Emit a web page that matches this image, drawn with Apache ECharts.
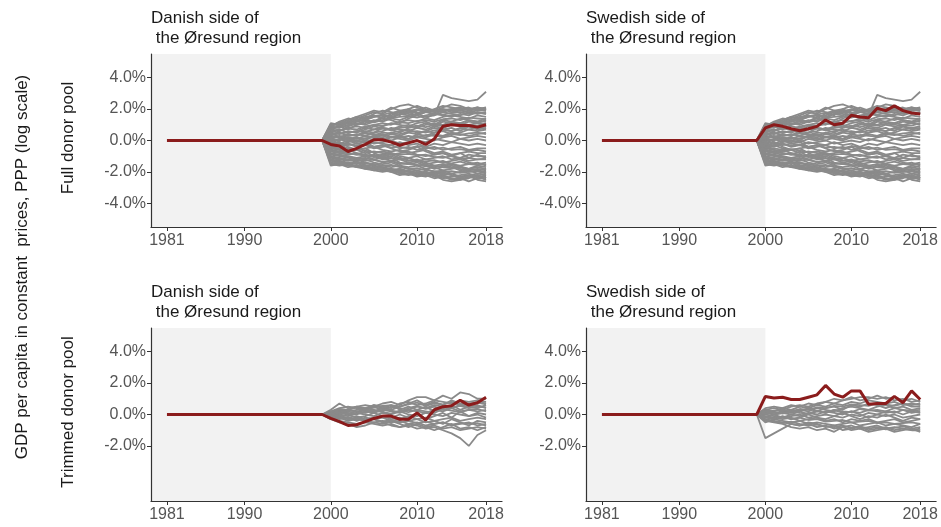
<!DOCTYPE html>
<html>
<head>
<meta charset="utf-8">
<script src="https://cdn.jsdelivr.net/npm/echarts@6/dist/echarts.min.js"></script>
<style>
  html, body { margin: 0; padding: 0; background: #fff; }
  #chart { width: 941px; height: 527px; }
</style>
</head>
<body>
<div id="chart"></div>
<script>
// years of the whole panel and of the placebo part
var years = [1981,1982,1983,1984,1985,1986,1987,1988,1989,1990,1991,1992,1993,1994,1995,1996,1997,1998,1999,
             2000,2001,2002,2003,2004,2005,2006,2007,2008,2009,2010,2011,2012,2013,2014,2015,2016,2017,2018];
var postYears = [1999,2000,2001,2002,2003,2004,2005,2006,2007,2008,2009,2010,2011,2012,2013,2014,2015,2016,2017,2018];
var xTickLabels = [1981, 1990, 2000, 2010, 2018];

// treated units (gap in %), 1981-2018
var danishFull = [0,0,0,0,0,0,0,0,0,0,0,0,0,0,0,0,0,0,0,
  -0.25,-0.35,-0.7,-0.5,-0.25,0.05,0.05,-0.1,-0.3,-0.15,0.0,-0.25,0.1,0.9,1.0,0.95,0.95,0.85,1.0];
var swedishFull = [0,0,0,0,0,0,0,0,0,0,0,0,0,0,0,0,0,0,0,
  0.8,1.0,0.9,0.75,0.62,0.75,0.9,1.3,1.0,1.1,1.6,1.5,1.45,2.05,1.9,2.2,1.9,1.75,1.68];
var danishTrim = [0,0,0,0,0,0,0,0,0,0,0,0,0,0,0,0,0,0,0,
  -0.25,-0.45,-0.7,-0.65,-0.45,-0.25,-0.1,-0.1,-0.3,-0.3,0.1,-0.35,0.3,0.5,0.55,0.9,0.6,0.75,1.1];
var swedishTrim = [0,0,0,0,0,0,0,0,0,0,0,0,0,0,0,0,0,0,0,
  1.15,1.05,1.1,0.95,0.95,1.1,1.25,1.85,1.3,1.1,1.5,1.5,0.65,0.7,0.7,1.15,0.75,1.5,0.95];

// placebo gaps (%), 1999-2018
var placeboFull = [
  [0,1.1,1.0,1.2,1.4,1.6,1.8,1.7,2.0,2.2,2.3,2.1,1.9,1.6,2.9,2.7,2.6,2.5,2.6,3.1],
  [0,1.0,1.1,1.3,1.5,1.4,1.7,1.9,1.8,1.6,2.0,2.2,2.0,1.9,2.1,2.3,2.2,2.0,2.1,2.0],
  [0,0.9,0.8,1.0,1.2,1.3,1.2,1.5,1.6,1.8,1.7,1.6,1.8,1.9,2.0,1.8,1.9,2.0,2.0,1.9],
  [0,0.8,0.9,0.7,1.0,1.1,1.3,1.2,1.4,1.3,1.5,1.7,1.5,1.6,1.8,1.7,1.6,1.8,1.7,1.8],
  [0,0.7,0.6,0.8,0.9,0.8,1.0,1.1,1.0,1.2,1.3,1.2,1.4,1.3,1.5,1.6,1.5,1.4,1.6,1.5],
  [0,0.6,0.7,0.5,0.6,0.8,0.7,0.9,1.1,1.0,0.9,1.1,1.2,1.0,1.3,1.2,1.4,1.3,1.2,1.4],
  [0,0.5,0.4,0.6,0.5,0.7,0.9,0.8,0.7,0.9,1.0,0.8,1.0,1.1,1.0,1.2,1.1,1.3,1.2,1.2],
  [0,0.4,0.5,0.3,0.4,0.3,0.5,0.6,0.8,0.7,0.6,0.8,0.7,0.9,0.8,1.0,0.9,1.0,1.1,1.0],
  [0,0.3,0.2,0.4,0.3,0.5,0.4,0.3,0.5,0.6,0.7,0.5,0.6,0.8,0.7,0.6,0.8,0.9,0.8,0.9],
  [0,0.2,0.3,0.1,0.2,0.1,0.3,0.4,0.2,0.3,0.5,0.4,0.3,0.5,0.6,0.4,0.5,0.7,0.6,0.7],
  [0,0.1,0.0,0.2,0.1,0.3,0.2,0.1,0.0,0.2,0.1,0.3,0.2,0.4,0.3,0.5,0.4,0.3,0.4,0.5],
  [0,0.0,0.1,-0.1,0.0,-0.1,0.1,0.0,0.2,0.1,0.0,0.2,0.1,0.0,0.2,0.3,0.1,0.2,0.3,0.2],
  [0,-0.1,-0.2,0.0,-0.1,0.0,-0.2,-0.1,0.0,-0.2,-0.1,0.0,-0.1,0.1,0.0,-0.1,0.1,0.0,0.1,0.0],
  [0,-0.2,-0.1,-0.3,-0.2,-0.3,-0.1,-0.2,-0.3,-0.1,-0.3,-0.2,-0.4,-0.2,-0.3,-0.1,-0.2,-0.3,-0.2,-0.3],
  [0,-0.3,-0.4,-0.2,-0.4,-0.3,-0.5,-0.4,-0.3,-0.5,-0.4,-0.6,-0.5,-0.4,-0.6,-0.5,-0.4,-0.6,-0.5,-0.5],
  [0,-0.4,-0.3,-0.5,-0.6,-0.5,-0.4,-0.6,-0.7,-0.6,-0.8,-0.7,-0.6,-0.8,-0.7,-0.9,-0.8,-0.7,-0.8,-0.8],
  [0,-0.5,-0.6,-0.7,-0.6,-0.8,-0.7,-0.8,-0.9,-0.8,-0.7,-0.9,-1.0,-0.9,-0.8,-1.0,-1.1,-0.9,-1.0,-1.0],
  [0,-0.6,-0.7,-0.6,-0.8,-0.9,-1.0,-0.9,-0.8,-1.0,-1.1,-1.0,-1.2,-1.1,-1.0,-1.2,-1.1,-1.3,-1.2,-1.2],
  [0,-0.7,-0.8,-0.9,-0.8,-1.0,-0.9,-1.1,-1.0,-1.2,-1.1,-1.3,-1.2,-1.3,-1.4,-1.3,-1.2,-1.4,-1.5,-1.4],
  [0,-0.8,-0.9,-1.0,-1.1,-1.0,-1.2,-1.1,-1.3,-1.2,-1.4,-1.3,-1.5,-1.4,-1.3,-1.5,-1.6,-1.5,-1.4,-1.6],
  [0,-0.9,-1.0,-1.1,-1.2,-1.3,-1.2,-1.4,-1.3,-1.5,-1.4,-1.6,-1.5,-1.7,-1.6,-1.5,-1.7,-1.8,-1.6,-1.7],
  [0,-1.0,-1.1,-1.2,-1.3,-1.2,-1.4,-1.5,-1.4,-1.6,-1.7,-1.6,-1.8,-1.7,-1.9,-1.8,-1.7,-1.9,-1.8,-1.9],
  [0,-1.1,-1.2,-1.3,-1.2,-1.4,-1.5,-1.6,-1.7,-1.6,-1.8,-1.9,-1.8,-2.0,-1.9,-2.1,-2.0,-1.9,-2.1,-2.0],
  [0,-1.2,-1.3,-1.4,-1.5,-1.4,-1.6,-1.7,-1.8,-1.9,-2.0,-1.9,-2.1,-2.0,-2.2,-2.1,-2.3,-2.2,-2.1,-2.2],
  [0,-1.3,-1.4,-1.5,-1.6,-1.7,-1.8,-1.7,-1.9,-2.0,-2.1,-2.2,-2.1,-2.3,-2.2,-2.4,-2.5,-2.3,-2.2,-2.4],
  [0,-1.4,-1.5,-1.6,-1.7,-1.8,-1.9,-2.0,-1.9,-2.1,-2.2,-2.1,-2.0,-2.2,-2.4,-2.3,-2.2,-2.1,-2.3,-2.5],
  [0,-1.5,-1.6,-1.5,-1.7,-1.6,-1.8,-1.9,-2.0,-1.8,-2.0,-2.2,-2.3,-2.1,-2.0,-2.2,-2.4,-2.6,-2.4,-2.3],
  [0,-1.6,-1.5,-1.7,-1.6,-1.8,-1.7,-1.9,-1.8,-2.0,-1.9,-2.1,-2.0,-2.2,-2.5,-2.6,-2.5,-2.4,-2.2,-2.4],
  [0,0.9,1.2,1.4,1.3,1.5,1.6,1.4,1.7,1.9,1.8,2.0,1.8,1.7,1.9,2.0,2.1,1.9,2.0,2.1],
  [0,0.3,0.6,0.9,1.1,1.0,1.2,1.4,1.3,1.1,1.4,1.6,1.4,1.7,1.6,1.5,1.7,1.6,1.8,1.7],
  [0,-0.2,0.1,0.4,0.3,0.6,0.5,0.8,0.7,0.5,0.8,0.9,1.1,0.9,1.2,1.1,1.0,1.2,1.1,1.3],
  [0,-0.6,-0.3,-0.1,0.2,0.0,0.3,0.2,0.4,0.3,0.1,0.4,0.6,0.5,0.7,0.8,0.6,0.9,0.7,0.8],
  [0,0.5,0.2,0.0,-0.2,-0.1,-0.4,-0.3,-0.5,-0.7,-0.6,-0.4,-0.7,-0.9,-0.8,-1.0,-0.8,-1.1,-0.9,-1.1],
  [0,0.2,-0.1,-0.4,-0.6,-0.5,-0.8,-1.0,-0.9,-1.1,-1.3,-1.2,-1.4,-1.6,-1.5,-1.7,-1.9,-1.8,-1.7,-1.8],
  [0,-1.0,-1.3,-1.5,-1.4,-1.7,-1.9,-1.8,-2.0,-2.2,-2.1,-2.3,-2.2,-2.4,-2.3,-2.5,-2.4,-2.2,-2.5,-2.6],
  [0,0.7,0.9,1.1,1.0,1.3,1.5,1.6,1.4,1.7,1.6,1.9,2.1,1.9,1.8,2.0,1.9,1.8,1.9,1.9],
  [0,-0.4,-0.6,-0.8,-0.9,-0.7,-1.0,-1.2,-1.1,-1.4,-1.5,-1.4,-1.6,-1.8,-1.7,-1.6,-1.8,-2.0,-1.9,-2.0],
  [0,1.0,1.1,1.3,1.5,1.7,1.9,1.8,2.1,1.9,2.0,1.7,1.8,2.0,2.2,2.1,2.0,2.1,1.9,2.0],
  [0,0.95,1.05,1.15,1.3,1.45,1.55,1.65,1.75,1.85,1.9,1.95,1.85,1.8,2.0,1.9,1.95,2.0,1.95,2.05],
  [0,0.75,0.85,0.95,1.05,1.2,1.15,1.3,1.45,1.5,1.55,1.45,1.6,1.7,1.65,1.75,1.8,1.7,1.75,1.7],
  [0,0.55,0.65,0.75,0.7,0.9,1.0,0.95,1.05,1.15,1.1,1.25,1.3,1.2,1.35,1.4,1.3,1.45,1.4,1.35],
  [0,0.35,0.45,0.5,0.6,0.55,0.7,0.75,0.65,0.8,0.85,0.95,0.85,1.0,0.95,1.05,1.1,1.0,0.95,1.1],
  [0,0.15,0.25,0.3,0.35,0.45,0.35,0.5,0.45,0.4,0.55,0.6,0.5,0.65,0.7,0.6,0.75,0.7,0.8,0.75],
  [0,-0.05,0.05,0.1,0.0,0.15,0.2,0.1,0.25,0.2,0.3,0.2,0.35,0.3,0.25,0.4,0.35,0.45,0.5,0.4],
  [0,-0.25,-0.3,-0.2,-0.35,-0.25,-0.4,-0.3,-0.45,-0.4,-0.5,-0.35,-0.45,-0.55,-0.45,-0.6,-0.55,-0.65,-0.6,-0.7],
  [0,-0.45,-0.5,-0.6,-0.55,-0.65,-0.75,-0.7,-0.8,-0.9,-0.85,-0.95,-0.9,-1.05,-1.1,-1.0,-1.15,-1.1,-1.2,-1.15],
  [0,-0.65,-0.75,-0.8,-0.9,-0.95,-1.05,-1.0,-1.15,-1.1,-1.25,-1.3,-1.35,-1.25,-1.4,-1.45,-1.35,-1.5,-1.55,-1.5],
  [0,-0.85,-0.95,-1.05,-1.15,-1.1,-1.25,-1.35,-1.3,-1.45,-1.5,-1.55,-1.65,-1.6,-1.7,-1.75,-1.65,-1.8,-1.85,-1.8],
  [0,-1.05,-1.15,-1.25,-1.35,-1.45,-1.5,-1.6,-1.55,-1.7,-1.8,-1.75,-1.9,-1.95,-2.0,-1.95,-2.05,-2.0,-1.95,-2.1],
  [0,-1.25,-1.35,-1.45,-1.4,-1.55,-1.65,-1.75,-1.85,-1.8,-1.95,-2.05,-2.0,-2.15,-2.1,-2.2,-2.3,-2.25,-2.35,-2.2],
  [0,-1.45,-1.4,-1.55,-1.65,-1.6,-1.75,-1.85,-1.95,-2.05,-2.1,-2.0,-2.15,-2.25,-2.3,-2.45,-2.35,-2.3,-2.45,-2.35],
  [0,1.05,0.95,1.1,1.25,1.35,1.5,1.6,1.5,1.7,1.8,1.75,1.9,1.85,1.95,2.0,2.05,1.95,2.1,1.95]
];
var placeboDanishTrim = [
  [0,0.3,0.7,0.4,0.5,0.6,0.5,0.7,0.8,0.6,0.9,1.1,1.1,0.9,1.2,1.0,1.4,1.3,1.0,1.0],
  [0,0.2,0.4,0.5,0.4,0.3,0.6,0.5,0.4,0.7,0.8,0.6,0.7,0.9,0.8,0.7,0.9,0.8,0.9,0.8],
  [0,0.1,0.3,0.2,0.3,0.4,0.3,0.2,0.5,0.4,0.3,0.5,0.4,0.6,0.5,0.4,0.6,0.5,0.4,0.6],
  [0,0.0,0.2,0.1,0.0,0.2,0.1,0.3,0.2,0.1,0.3,0.2,0.1,0.3,0.2,0.4,0.2,0.3,0.2,0.3],
  [0,-0.1,0.0,-0.1,0.1,0.0,-0.1,0.1,0.0,0.2,0.0,-0.1,0.1,0.0,-0.1,0.1,0.0,-0.1,0.1,0.0],
  [0,-0.2,-0.1,-0.2,-0.1,-0.3,-0.2,-0.1,-0.3,-0.2,-0.4,-0.3,-0.2,-0.4,-0.3,-0.2,-0.4,-0.3,-0.2,-0.3],
  [0,-0.3,-0.2,-0.4,-0.3,-0.4,-0.5,-0.4,-0.5,-0.4,-0.6,-0.5,-0.7,-0.6,-0.5,-0.7,-0.6,-0.5,-0.7,-0.6],
  [0,-0.2,-0.4,-0.5,-0.6,-0.5,-0.6,-0.7,-0.6,-0.8,-0.7,-0.9,-0.8,-0.7,-0.9,-0.8,-1.0,-0.9,-0.8,-0.9],
  [0,0.1,-0.1,-0.3,-0.2,-0.4,-0.3,-0.5,-0.7,-0.8,-0.6,-0.7,-0.9,-0.8,-1.0,-1.2,-1.5,-2.0,-1.3,-1.0],
  [0,0.2,0.1,0.3,0.5,0.4,0.6,0.4,0.3,0.5,0.7,0.9,0.6,0.8,0.6,0.9,0.7,0.6,0.8,0.7],
  [0,0.0,-0.1,0.0,-0.2,-0.1,0.1,-0.1,-0.2,0.0,-0.2,0.1,-0.3,-0.1,0.1,-0.2,0.2,-0.1,0.0,-0.2],
  [0,-0.1,-0.3,-0.2,-0.4,-0.2,-0.3,-0.2,-0.4,-0.3,-0.1,-0.3,-0.5,-0.4,-0.6,-0.3,-0.5,-0.7,-0.4,-0.5],
  [0,0.1,0.2,0.0,0.1,0.3,0.2,0.4,0.6,0.3,0.5,0.3,0.5,0.2,0.4,0.6,0.3,0.5,0.6,0.4],
  [0,-0.3,-0.5,-0.6,-0.8,-0.7,-0.5,-0.6,-0.4,-0.6,-0.8,-0.6,-0.8,-1.0,-0.8,-0.6,-0.9,-0.8,-1.0,-0.8],
  [0,0.15,0.35,0.3,0.45,0.35,0.45,0.55,0.6,0.5,0.65,0.75,0.55,0.7,0.65,0.8,0.6,0.7,0.75,0.65],
  [0,-0.05,0.1,0.05,0.2,0.1,0.25,0.15,0.05,0.25,0.15,0.3,0.2,0.1,0.35,0.25,0.15,0.3,0.35,0.2],
  [0,-0.15,-0.2,-0.3,-0.25,-0.35,-0.3,-0.45,-0.35,-0.5,-0.4,-0.55,-0.45,-0.6,-0.5,-0.65,-0.55,-0.6,-0.55,-0.7],
  [0,0.05,0.15,0.25,0.2,0.3,0.45,0.35,0.25,0.15,0.4,0.55,0.35,0.5,0.3,0.45,0.55,0.4,0.5,0.45]
];
var placeboSwedishTrim = [
  [0,0.4,0.5,0.4,0.6,0.5,0.7,0.6,0.8,0.7,0.9,1.0,1.1,1.1,1.0,1.1,0.9,1.0,0.8,0.9],
  [0,0.3,0.2,0.4,0.3,0.5,0.4,0.6,0.5,0.7,0.6,0.8,0.7,0.9,0.8,0.7,0.8,0.6,0.7,0.6],
  [0,0.2,0.1,0.2,0.1,0.3,0.2,0.4,0.3,0.2,0.4,0.5,0.4,0.3,0.5,0.6,0.4,0.5,0.3,0.4],
  [0,0.1,0.0,0.1,0.0,-0.1,0.1,0.0,0.2,0.1,0.0,0.2,0.1,0.3,0.2,0.1,0.2,0.0,0.2,0.1],
  [0,0.0,-0.1,-0.2,-0.1,0.0,-0.2,-0.1,0.0,-0.1,-0.2,0.0,-0.1,0.1,0.0,-0.1,0.0,-0.2,-0.1,0.0],
  [0,-0.1,-0.2,-0.3,-0.2,-0.4,-0.3,-0.2,-0.4,-0.3,-0.5,-0.3,-0.4,-0.3,-0.5,-0.4,-0.3,-0.5,-0.4,-0.3],
  [0,-0.2,-0.3,-0.4,-0.5,-0.4,-0.6,-0.5,-0.6,-0.7,-0.6,-0.5,-0.7,-0.6,-0.5,-0.7,-0.6,-0.7,-0.8,-0.6],
  [0,-0.3,-0.4,-0.5,-0.6,-0.7,-0.6,-0.8,-0.7,-0.9,-0.8,-0.7,-0.9,-0.8,-0.7,-0.9,-0.8,-0.9,-1.0,-0.9],
  [0,-1.5,-1.2,-0.9,-0.6,-0.7,-0.5,-0.6,-0.8,-0.7,-1.0,-0.9,-0.8,-1.0,-0.9,-0.8,-1.0,-0.9,-1.0,-1.0],
  [0,-0.4,-0.5,-0.6,-0.8,-0.9,-0.8,-1.0,-0.9,-1.1,-0.8,-1.0,-0.9,-1.1,-1.0,-0.9,-1.1,-1.0,-0.9,-1.1],
  [0,0.3,0.4,0.3,0.5,0.6,0.5,0.7,0.8,1.0,0.9,1.1,0.9,1.0,1.2,1.0,1.1,0.9,1.0,0.8],
  [0,-0.5,-0.3,-0.1,-0.3,-0.2,0.0,0.2,0.1,0.3,0.1,0.2,0.0,-0.2,0.0,0.2,0.1,0.3,0.1,0.2],
  [0,0.2,0.0,-0.2,0.0,0.2,0.0,-0.2,-0.3,-0.1,0.1,-0.1,-0.3,-0.1,-0.2,0.0,-0.2,-0.4,-0.2,-0.3],
  [0,-0.2,0.0,0.1,0.3,0.2,0.4,0.2,0.4,0.5,0.3,0.6,0.5,0.7,0.6,0.4,0.6,0.7,0.5,0.5],
  [0,0.15,0.25,0.3,0.2,0.35,0.3,0.45,0.4,0.55,0.5,0.65,0.6,0.55,0.7,0.65,0.55,0.7,0.6,0.7],
  [0,-0.15,-0.25,-0.15,-0.3,-0.2,-0.35,-0.3,-0.45,-0.4,-0.35,-0.5,-0.45,-0.4,-0.55,-0.5,-0.6,-0.55,-0.5,-0.6],
  [0,0.05,0.15,0.05,0.2,0.1,0.05,0.25,0.1,0.3,0.2,0.15,0.35,0.25,0.3,0.2,0.4,0.3,0.25,0.3],
  [0,-0.35,-0.45,-0.55,-0.45,-0.6,-0.7,-0.65,-0.75,-0.8,-0.7,-0.85,-0.75,-0.9,-0.8,-0.95,-0.85,-0.75,-0.9,-0.8]
];

var FONT = '"Liberation Sans", Arial, sans-serif';
var panelTitle = ['Danish side of\n the Øresund region', 'Swedish side of\n the Øresund region'];

var panels = [
  { left: 151, top: 54,  treated: danishFull,  placebo: placeboFull,        yTicks: [-4,-2,0,2,4] },
  { left: 586, top: 54,  treated: swedishFull, placebo: placeboFull,        yTicks: [-4,-2,0,2,4] },
  { left: 151, top: 328, treated: danishTrim,  placebo: placeboDanishTrim,  yTicks: [-2,0,2,4] },
  { left: 586, top: 328, treated: swedishTrim, placebo: placeboSwedishTrim, yTicks: [-2,0,2,4] }
];

var grid = [], xAxis = [], yAxis = [], series = [], titles = [];

panels.forEach(function (p, i) {
  grid.push({ left: p.left, top: p.top, width: 351, height: 173 });
  titles.push({
    text: panelTitle[i % 2], left: p.left, top: p.top - 46,
    textStyle: { fontFamily: FONT, fontSize: 17, fontWeight: 'normal', color: '#1a1a1a', lineHeight: 20 },
    padding: 0
  });
  xAxis.push({
    type: 'value', gridIndex: i, min: 1979.15, max: 2019.85, z: 10,
    axisLine: { onZero: false, lineStyle: { color: '#333', width: 1.2 } },
    axisTick: { customValues: xTickLabels, length: 4, lineStyle: { color: '#333' } },
    axisLabel: { customValues: xTickLabels, color: '#555', fontFamily: FONT, fontSize: 16, margin: 6,
                 formatter: function (v) { return String(v); } },
    splitLine: { show: false }
  });
  yAxis.push({
    type: 'value', gridIndex: i, min: -5.5, max: 5.5, z: 10,
    axisLine: { show: true, onZero: false, lineStyle: { color: '#333', width: 1.2 } },
    axisTick: { show: true, customValues: p.yTicks, length: 4, lineStyle: { color: '#333' } },
    axisLabel: { customValues: p.yTicks, color: '#555', fontFamily: FONT, fontSize: 16, margin: 5,
                 formatter: function (v) { return v.toFixed(1) + '%'; } },
    splitLine: { show: false }
  });

  // shaded pre-treatment period
  series.push({
    type: 'line', xAxisIndex: i, yAxisIndex: i, data: [], silent: true,
    markArea: { silent: true, itemStyle: { color: '#f2f2f2' },
                data: [[{ xAxis: 1979.15 }, { xAxis: 2000 }]] }
  });

  p.placebo.forEach(function (vals) {
    series.push({
      type: 'line', xAxisIndex: i, yAxisIndex: i, symbol: 'none', silent: true,
      lineStyle: { color: '#8a8a8a', width: 1.8 },
      data: postYears.map(function (y, k) { return [y, vals[k]]; })
    });
  });

  series.push({
    type: 'line', xAxisIndex: i, yAxisIndex: i, symbol: 'none', z: 5,
    lineStyle: { color: '#8b1c1c', width: 3 },
    data: years.map(function (y, k) { return [y, p.treated[k]]; })
  });
});

var chart = echarts.init(document.getElementById('chart'));
chart.setOption({
  animation: false,
  backgroundColor: '#fff',
  title: titles,
  grid: grid,
  xAxis: xAxis,
  yAxis: yAxis,
  series: series,
  graphic: [
    { type: 'text', x: 22, y: 267, rotation: Math.PI / 2,
      style: { text: 'GDP per capita in constant  prices, PPP (log scale)', font: '17px ' + FONT,
               fill: '#1a1a1a', align: 'center', verticalAlign: 'middle' } },
    { type: 'text', x: 68, y: 138, rotation: Math.PI / 2,
      style: { text: 'Full donor pool', font: '17px ' + FONT,
               fill: '#1a1a1a', align: 'center', verticalAlign: 'middle' } },
    { type: 'text', x: 68, y: 412, rotation: Math.PI / 2,
      style: { text: 'Trimmed donor pool', font: '17px ' + FONT,
               fill: '#1a1a1a', align: 'center', verticalAlign: 'middle' } }
  ]
});
</script>
</body>
</html>
